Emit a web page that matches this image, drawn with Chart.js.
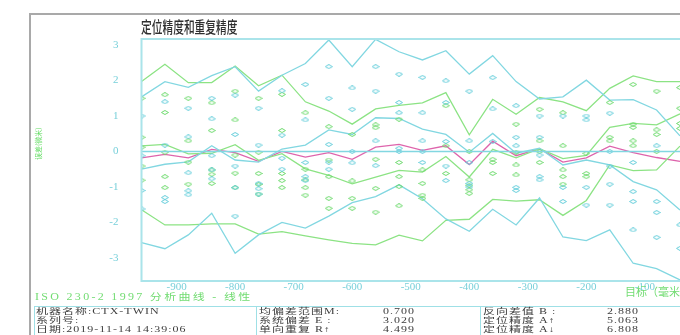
<!DOCTYPE html>
<html>
<head>
<meta charset="utf-8">
<script src="https://cdn.jsdelivr.net/npm/chart.js@4/dist/chart.umd.min.js"></script>
<style>
  html, body { margin: 0; padding: 0; background: #fff; }
  #wrap { position: relative; width: 680px; height: 335px; overflow: hidden; background: #fff; }
  #frame { position: absolute; left: 29px; top: 13px; width: 720px; height: 400px;
           border-left: 2px solid #a9a9a9; border-top: 2px solid #a9a9a9; }
  #c { position: absolute; left: 0; top: 0; }
  .t { position: absolute; white-space: nowrap; transform-origin: 0 0; }
  #title { left: 141px; top: 16px; font: 500 16px "Noto Sans CJK SC", sans-serif; color: #2e2e2e;
           transform: scaleX(0.67); line-height: 20px; }
  #ylab { left: 34px; top: 160px; font: 7px "Noto Sans CJK SC", sans-serif; color: #66dd66;
          transform: rotate(-90deg); line-height: 9px; }
  #iso { left: 35px; top: 292px; font: 12px "Liberation Serif", "Noto Sans CJK SC", serif; color: #72dc72;
         letter-spacing: 2.3px; line-height: 12px; transform: scaleY(0.78); }
  #xlab { left: 625px; top: 286px; font: 11px "Liberation Serif", "Noto Sans CJK SC", serif; color: #72dc72;
          line-height: 12px; }
  #table { position: absolute; left: 34px; top: 306px; width: 700px; height: 60px;
           border-left: 1px solid #9fe0e6; border-top: 1px solid #9fe0e6; }
  .div { position: absolute; top: 306px; height: 40px; width: 0; border-left: 1px solid #9fe0e6; }
  .r { font: 12px "Liberation Serif", "Noto Sans CJK SC", serif; color: #3c3c3c; letter-spacing: 1px;
       line-height: 12px; transform: scaleY(0.66); }
</style>
</head>
<body>
<div id="wrap">
  <div id="frame"></div>
  <canvas id="c" width="720" height="335"></canvas>
  <div class="t" id="title">定位精度和重复精度</div>
  <div class="t" id="ylab">误差(微米)</div>
  <div class="t" id="iso">ISO 230-2 1997 分析曲线 - 线性</div>
  <div class="t" id="xlab">目标（毫米）</div>
  <div id="table"></div>
  <div class="div" style="left:256px"></div>
  <div class="div" style="left:480px"></div>
  <div id="info"></div>
</div>
<script>
// Target positions (mm) and axis ticks
const targets = [-960, -920, -880, -840, -800, -760, -720, -680, -640, -600, -560, -520,
                 -480, -440, -400, -360, -320, -280, -240, -200, -160, -120, -80, -40];
const xTicks = [-900, -800, -700, -600, -500, -400, -300, -200, -100];
const yTicks = [-3, -2, -1, 0, 1, 2, 3];

// Forward direction (cyan): mean and ±2s envelope, in µm
const cyanUpper = [1.54, 1.97, 1.81, 2.14, 2.39, 1.70, 2.15, 2.48, 3.14, 2.39, 3.16, 2.81,
                   2.58, 2.84, 2.18, 2.70, 1.97, 1.48, 1.54, 2.01, 1.45, 1.46, 1.17, 0.44];
const cyanMean  = [-0.50, -0.36, -0.29, 0.16, -0.24, -0.30, 0.07, 0.18, 0.61, 0.48, 0.95, 0.93,
                   0.63, 0.48, -0.02, 0.51, -0.05, 0.09, -0.38, -0.24, -0.38, -0.85, -1.08, -1.65];
const cyanLower = [-2.57, -2.74, -2.35, -1.74, -2.87, -2.35, -2.00, -2.16, -1.82, -1.44, -1.27, -0.94,
                   -1.33, -1.90, -2.25, -1.63, -2.07, -1.31, -2.41, -2.51, -2.21, -3.15, -3.30, -3.62];

// Reverse direction (green): mean and ±2s envelope, in µm
const greenUpper = [1.97, 2.46, 1.94, 1.94, 2.41, 1.85, 2.15, 1.40, 1.14, 0.77, 1.20, 1.30,
                    1.37, 1.66, 0.47, 1.47, 1.05, 1.52, 1.40, 1.15, 1.78, 2.13, 1.97, 1.97];
const greenMean  = [0.16, 0.20, -0.07, -0.05, 0.19, -0.25, -0.06, -0.49, -0.67, -0.91, -0.72, -0.53,
                    -0.58, -0.14, -0.72, 0.06, -0.18, 0.08, -0.20, -0.11, 0.68, 0.79, 0.75, 1.06];
const greenLower = [-1.64, -2.07, -2.07, -2.04, -2.04, -2.33, -2.26, -2.38, -2.49, -2.59, -2.63, -2.36,
                    -2.52, -1.94, -1.91, -1.35, -1.40, -1.36, -1.80, -1.38, -0.38, -0.54, -0.52, 0.15];

// Bidirectional mean deviation
const biMean = [-0.18, -0.08, -0.18, 0.06, -0.03, -0.28, 0.00, -0.16, -0.03, -0.22, 0.12, 0.20,
                0.03, 0.16, -0.37, 0.29, -0.12, 0.08, -0.30, -0.18, 0.15, -0.03, -0.17, -0.28];

// Individual run deviations at each target
const cyanRuns = [
  [1.00, -0.12, -1.10, -1.62], [1.40, 0.18, -1.30, -1.41], [1.22, 0.41, -0.60, -1.11, -1.22],
  [1.50, 0.92, -0.12, -0.52, -0.77], [1.59, 0.48, -0.41, -1.02, -1.82], [1.22, 0.18, -0.90, -1.05, -1.20],
  [1.71, 0.46, -0.19, -0.50], [1.89, 0.89, -0.31, -0.71, -0.82], [2.39, 1.50, 0.20, -0.30, -0.50],
  [1.79, 1.19, 0.00, -0.32], [2.39, 1.70, 0.30, -0.40], [2.18, 1.38, 1.09, 0.09, 0.00],
  [2.09, 1.09, 0.30, 0.00, -0.31], [1.99, 1.38, 0.28, -0.41, -0.82], [1.70, 0.30, -0.31, -0.90, -1.00],
  [2.08, 1.20, 0.28], [1.29, 0.40, 0.16, -1.01, -1.10], [1.00, 0.40, -0.10, -0.71, -0.80],
  [1.00, -1.01, -1.41], [1.00, 0.89, -1.01, -1.51], [1.08, 0.00, -0.41, -0.92, -1.51],
  [-0.31, -1.13, -1.41, -2.21], [0.16, -1.41, -1.72, -2.42], [-2.07, -2.73]
];
const greenRuns = [
  [1.50, 0.40, 0.12, -0.41, -0.81], [1.60, 1.10, -0.02, -0.71, -1.02], [1.50, 0.30, -0.30, -0.92],
  [1.37, 0.59, -0.52, -0.64, -0.90], [1.70, 0.89, -0.10, -0.61, -1.02], [1.50, -0.02, -0.62, -0.93, -1.20],
  [1.61, 0.59, -0.62, -0.82, -1.02], [1.09, -0.50, -0.80, -1.02, -1.23], [0.70, -0.24, -0.71, -1.32, -1.60],
  [0.48, -0.83, -1.32, -1.60], [0.75, 0.67, -0.22, -1.04, -1.71], [0.91, -0.31, -0.71, -0.99, -1.53],
  [-0.52, -0.90, -1.23, -1.32], [1.29, 0.16, -0.62], [0.00, -0.80, -0.95, -1.08, -1.18],
  [-0.22, -0.31, -0.62], [0.77, -0.02, -0.38, -0.66], [1.19, 0.30, 0.00, -0.31],
  [1.09, 0.16, -0.52, -0.71, -0.92], [-0.05, -0.62, -0.71], [1.38, 0.40, 0.30],
  [1.89, 0.77, 0.68, 0.30, 0.16], [1.70, 0.61, 0.48, 0.00], [1.80, 1.22, 0.79, 0.65]
];

// Summary table
const infoLeft  = ["机器名称:CTX-TWIN", "系列号:", "日期:2019-11-14 14:39:06"];
const infoMid   = ["均偏差范围M:", "系统偏差 E :", "单向重复 R↑"];
const infoMidV  = ["0.700", "3.020", "4.499"];
const infoRight = ["反向差值 B :", "定位精度 A↑", "定位精度 A↓"];
const infoRightV = ["2.880", "5.063", "6.808"];

const CYAN = 'rgb(130,215,225)';
const GREEN = 'rgb(140,227,132)';
const MAGENTA = 'rgb(222,100,172)';

// table text
const info = document.getElementById('info');
const rowTops = [306.5, 315.5, 324.5];
function put(txt, left, top) {
  const d = document.createElement('div');
  d.className = 't r';
  d.style.left = left + 'px';
  d.style.top = top + 'px';
  d.textContent = txt;
  info.appendChild(d);
}
rowTops.forEach((t, k) => {
  put(infoLeft[k], 36, t);
  put(infoMid[k], 259, t);
  put(infoMidV[k], 383, t);
  put(infoRight[k], 483, t);
  put(infoRightV[k], 607, t);
});

// flattened diamond marker
function marker(color) {
  const c = document.createElement('canvas');
  c.width = 8; c.height = 5;
  const g = c.getContext('2d');
  g.strokeStyle = color; g.lineWidth = 1;
  g.beginPath();
  g.moveTo(0.5, 2.5); g.lineTo(4, 0.5); g.lineTo(7.5, 2.5); g.lineTo(4, 4.5); g.closePath();
  g.stroke();
  return c;
}

const pts = arr => arr.map((v, i) => ({ x: targets[i], y: v }));
const runPts = runs => runs.flatMap((r, i) => r.map(v => ({ x: targets[i], y: v })));

const lineDs = (data, color) => ({
  type: 'line', data: pts(data), borderColor: color, borderWidth: 1.3,
  pointRadius: 0, tension: 0, fill: false
});

const framePlugin = {
  id: 'frame',
  afterDatasetsDraw(chart) {
    const a = chart.chartArea, ctx = chart.ctx;
    ctx.save();
    ctx.strokeStyle = 'rgb(170,228,234)';
    ctx.lineWidth = 2;
    ctx.strokeRect(a.left, a.top, a.right - a.left, a.bottom - a.top);
    ctx.restore();
  }
};

new Chart(document.getElementById('c'), {
  type: 'scatter',
  data: {
    datasets: [
      { type: 'line', data: [{ x: -960, y: 0 }, { x: 0, y: 0 }], borderColor: CYAN, borderWidth: 1.3, pointRadius: 0 },
      { data: runPts(cyanRuns), pointStyle: marker('rgb(100,205,218)'), showLine: false },
      { data: runPts(greenRuns), pointStyle: marker('rgb(110,218,110)'), showLine: false },
      lineDs(cyanUpper, CYAN), lineDs(cyanMean, CYAN), lineDs(cyanLower, CYAN),
      lineDs(greenUpper, GREEN), lineDs(greenMean, GREEN), lineDs(greenLower, GREEN),
      lineDs(biMean, MAGENTA)
    ]
  },
  options: {
    responsive: false,
    animation: false,
    events: [],
    layout: { padding: { left: 0, top: 39, right: 16.6, bottom: 0 } },
    plugins: { legend: { display: false }, tooltip: { enabled: false }, title: { display: false } },
    scales: {
      x: {
        type: 'linear', min: -960, max: 0,
        grid: { display: false, drawTicks: false }, border: { display: false },
        ticks: { color: 'rgb(120,208,218)', font: { family: 'Liberation Serif', size: 11 },
                 padding: 0, maxRotation: 0, autoSkip: false },
        afterBuildTicks: s => { s.ticks = xTicks.map(v => ({ value: v })); },
        afterFit: s => { s.height = 54; s.paddingLeft = 0; s.paddingRight = 0; }
      },
      y: {
        type: 'linear', min: -3.65, max: 3.17,
        grid: { display: false, drawTicks: false }, border: { display: false },
        ticks: { color: 'rgb(120,208,218)', font: { family: 'Liberation Serif', size: 11 }, padding: 23 },
        afterBuildTicks: s => { s.ticks = yTicks.map(v => ({ value: v })); },
        afterFit: s => { s.width = 141.5; s.paddingTop = 0; s.paddingBottom = 0; }
      }
    }
  },
  plugins: [framePlugin]
});
</script>
</body>
</html>
